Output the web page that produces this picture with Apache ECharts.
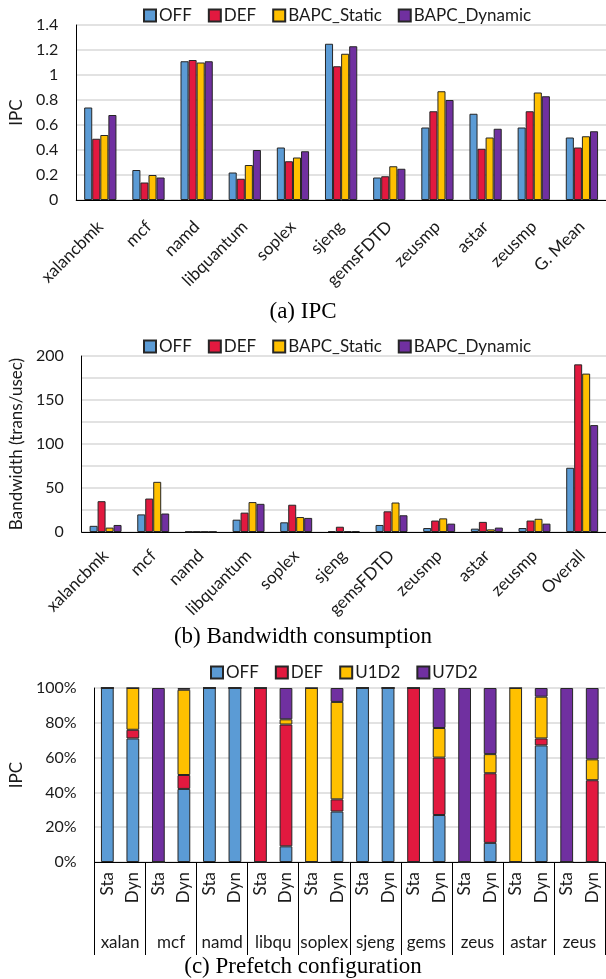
<!DOCTYPE html>
<html><head><meta charset="utf-8">
<script src="https://cdn.jsdelivr.net/npm/echarts@6/dist/echarts.min.js"></script>
<style>body{margin:0;background:#fff}.c{position:absolute;left:0;width:606px}</style>
</head><body>
<div id="a" class="c" style="top:0;height:330px"></div>
<div id="b" class="c" style="top:330px;height:325px"></div>
<div id="c" class="c" style="top:655px;height:324px"></div>
<script>
// ---------- data ----------
const benchA = ['xalancbmk','mcf','namd','libquantum','soplex','sjeng','gemsFDTD','zeusmp','astar','zeusmp','G. Mean'];
const benchB = ['xalancbmk','mcf','namd','libquantum','soplex','sjeng','gemsFDTD','zeusmp','astar','zeusmp','Overall'];
const namesAB = ['OFF','DEF','BAPC_Static','BAPC_Dynamic'];

const ipcOFF     = [0.74,0.24,1.11,0.22,0.42,1.25,0.18,0.58,0.69,0.58,0.50];
const ipcDEF     = [0.49,0.14,1.12,0.17,0.31,1.07,0.19,0.71,0.41,0.71,0.42];
const ipcStatic  = [0.52,0.20,1.10,0.28,0.34,1.17,0.27,0.87,0.50,0.86,0.51];
const ipcDynamic = [0.68,0.18,1.11,0.40,0.39,1.23,0.25,0.80,0.57,0.83,0.55];

const bwOFF     = [7,20,0.5,14,11,1,8,4.5,3.8,4.5,73];
const bwDEF     = [35,38,0.6,22,31,6,23.5,13,11.5,13,190.5];
const bwStatic  = [5,57,0.5,34,17,1,33.5,15.5,3,15,180];
const bwDynamic = [8,21,0.5,32,16,1,19,9.5,5,9.5,121.5];

const cfgLabels = ['Sta','Dyn','Sta','Dyn','Sta','Dyn','Sta','Dyn','Sta','Dyn','Sta','Dyn','Sta','Dyn','Sta','Dyn','Sta','Dyn','Sta','Dyn'];
const cfgGroups = ['xalan','mcf','namd','libqu','soplex','sjeng','gems','zeus','astar','zeus'];
const namesC = ['OFF','DEF','U1D2','U7D2'];
const pfOFF  = [100,71,0,42,100,100,0,9,0,29,100,100,0,27,0,11,0,67,0,0];
const pfDEF  = [0,5,0,8,0,0,100,70,0,7,0,0,100,33,0,40,0,4,0,47];
const pfU1D2 = [0,24,0,49,0,0,0,3,100,56,0,0,0,17,0,11,100,24,0,12];
const pfU7D2 = [0,0,100,1,0,0,0,18,0,8,0,0,0,23,100,38,0,5,100,41];

const yTicksA = {min:0, max:1.4, step:0.2};
const yTicksB = {min:0, max:200, step:25, labelStep:50};
const yTicksC = {min:0, max:100, step:20};

// ---------- styles ----------
const COLORS = ['#5B9BD5','#E2193F','#FFC000','#7030A0'];
const FONT = 'Lato';
const TXT = '#1a1a1a';
const BORDER = '#262626';
const GRIDC = '#D9D9D9';

function legend(names, left, top){
  return {data:names, top:top, left:left, padding:0, icon:'rect', itemWidth:12, itemHeight:12, itemGap:16,
    textStyle:{fontFamily:FONT, fontSize:17, color:TXT, padding:[0,0,0,-2]}};
}
function caption(text, y){
  return {type:'text', left:'center', top:y, style:{text:text, x:0, fill:'#000', font:'23px "Liberation Serif"', textAlign:'center'}};
}
function yAxis(t, name, gap, fmt){
  return {type:'value', min:t.min, max:t.max, interval:t.step, name:name, nameLocation:'middle', nameGap:gap,
    nameTextStyle:{fontFamily:FONT, fontSize:17, color:TXT},
    axisLine:{show:true, lineStyle:{color:'#000', width:1}}, axisTick:{show:false},
    splitLine:{lineStyle:{color:GRIDC, width:1.5}},
    axisLabel:{fontFamily:FONT, fontSize:16, color:TXT, margin:18, formatter:fmt}};
}
function barSeries(names, arrays, extra){
  return names.map((n,i)=>Object.assign({name:n, type:'bar', data:arrays[i],
    itemStyle:{color:COLORS[i], borderColor:BORDER, borderWidth:1}}, extra));
}
function catAxis(data, margin){
  return {type:'category', data:data, axisLine:{lineStyle:{color:'#000', width:1}}, axisTick:{show:false},
    axisLabel:{interval:0, rotate:45, fontFamily:FONT, fontSize:17, color:TXT, margin:margin}};
}

// ---------- chart (a) ----------
echarts.init(document.getElementById('a')).setOption({
  animation:false,
  legend: legend(namesAB, 143, 7),
  grid:{left:76, right:0, top:25, height:175},
  xAxis: catAxis(benchA, 24),
  yAxis: yAxis(yTicksA, 'IPC', 44, v=>String(Math.round(v*10)/10)),
  series: barSeries(namesAB, [ipcOFF,ipcDEF,ipcStatic,ipcDynamic], {barGap:'0%', barCategoryGap:'33%'}),
  graphic:[caption('(a) IPC', 300)]
});

// ---------- chart (b) ----------
echarts.init(document.getElementById('b')).setOption({
  animation:false,
  legend: legend(namesAB, 143, 8),
  grid:{left:78, right:0, top:26, height:176},
  xAxis: catAxis(benchB, 21),
  yAxis: yAxis(yTicksB, 'Bandwidth (trans/usec)', 46, v=>(v % yTicksB.labelStep === 0 ? String(v) : '')),
  series: barSeries(namesAB, [bwOFF,bwDEF,bwStatic,bwDynamic], {barGap:'0%', barCategoryGap:'33%'}),
  graphic:[caption('(b) Bandwidth consumption', 295)]
});

// ---------- chart (c) ----------
echarts.init(document.getElementById('c')).setOption({
  animation:false,
  legend: legend(namesC, 210, 9),
  grid:{left:79, right:1, top:33, height:174},
  xAxis:[
    {type:'category', position:'bottom', data:cfgLabels, axisLine:{lineStyle:{color:'#000', width:1}}, axisTick:{show:false},
     axisLabel:{interval:0, rotate:90, fontFamily:FONT, fontSize:17, color:TXT, margin:10}},
    {type:'category', position:'bottom', data:cfgGroups, axisLine:{show:false},
     axisTick:{show:true, interval:0, length:93, lineStyle:{color:'#000', width:1}},
     axisLabel:{interval:0, fontFamily:FONT, fontSize:17, color:TXT, margin:72}}
  ],
  yAxis: yAxis(yTicksC, 'IPC', 48, '{value}%'),
  series: barSeries(namesC, [pfOFF,pfDEF,pfU1D2,pfU7D2], {stack:'pf', barWidth:'50%', xAxisIndex:0}),
  graphic:[caption('(c) Prefetch configuration', 300)]
});
</script>
</body></html>
